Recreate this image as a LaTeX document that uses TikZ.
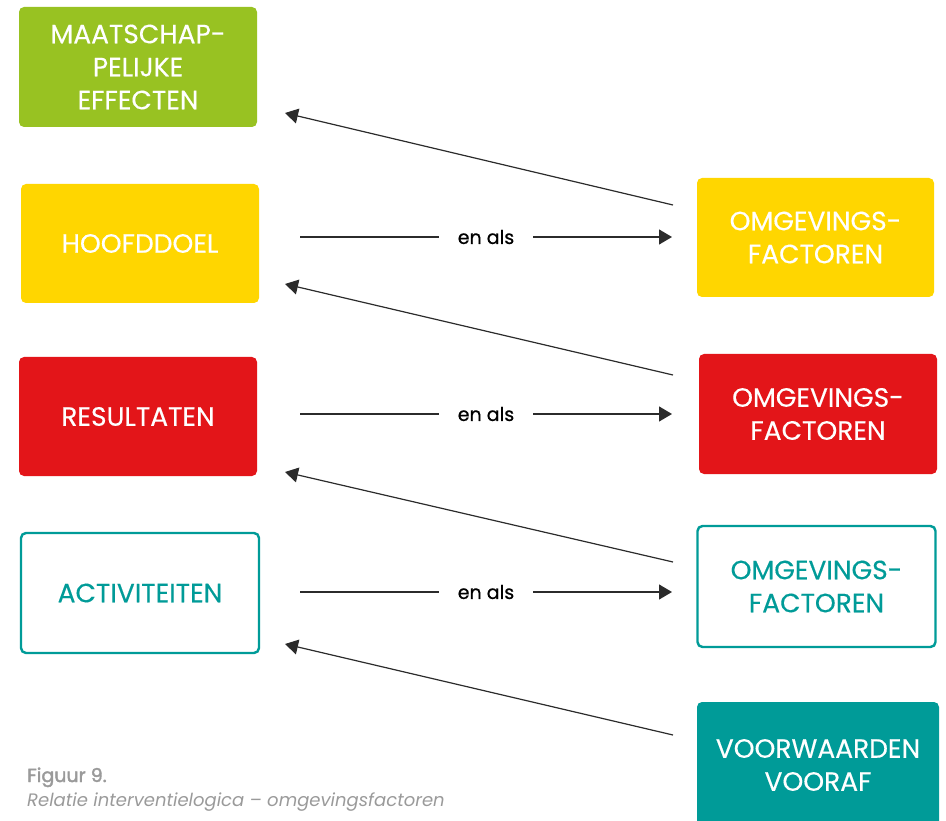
\documentclass[tikz,border=0pt]{standalone}
\usepackage{fontspec}
\setmainfont{Poppins}
\usetikzlibrary{arrows.meta}
\definecolor{cgreen}{HTML}{98C222}
\definecolor{cyellow}{HTML}{FFD600}
\definecolor{cred}{HTML}{E31519}
\definecolor{cteal}{HTML}{009B98}
\definecolor{cline}{HTML}{2B2B2B}
\definecolor{ccap}{HTML}{9A9A9A}
\begin{document}
\begin{tikzpicture}[x=1pt,y=-1pt,
  box/.style={rounded corners=5pt, minimum width=238pt, minimum height=120pt,
    inner sep=0pt, align=center, font=\fontsize{26.5}{33}\selectfont\addfontfeature{FakeBold=0.3}},
  solidbox/.style={box, fill=#1, text=white},
  openbox/.style={box, draw=cteal, line width=2.4pt, text=cteal, fill=white},
  link/.style={draw=cline, line width=1.2pt},
  tip/.style={-{Triangle[length=13pt,width=15pt]}},
  enals/.style={fill=white, inner xsep=19pt, text=black, font=\fontsize{19}{22}\selectfont\addfontfeature{FakeBold=0.8}},
  caption/.style={anchor=base west, inner sep=0pt, text=ccap},
]
\useasboundingbox (0,0) rectangle (946,821);
\begin{scope}
\clip (0,0) rectangle (946,821);

% left column: intervention logic
\node[solidbox=cgreen] (eff) at (138,67) {MAATSCHAP-\\PELIJKE\\EFFECTEN};
\node[solidbox=cyellow, minimum height=119pt] (doel) at (140,243.5) {HOOFDDOEL};
\node[solidbox=cred, minimum height=119pt] (res) at (138,416.5) {RESULTATEN};
\node[openbox, minimum width=238pt, minimum height=120pt] (act) at (140,593) {ACTIVITEITEN};

% right column: environment factors
\node[solidbox=cyellow, minimum width=237pt, minimum height=119pt] (om1) at (815.5,237.5) {OMGEVINGS-\\FACTOREN};
\node[solidbox=cred, minimum height=120pt] (om2) at (818,414) {OMGEVINGS-\\FACTOREN};
\node[openbox, minimum width=238pt, minimum height=121pt] (om3) at (816.5,586.5) {OMGEVINGS-\\FACTOREN};
\node[solidbox=cteal, minimum width=242pt, minimum height=126pt] (vw) at (818,765) {VOORWAARDEN\\VOORAF};
\end{scope}

% horizontal "en als" links
\coordinate (a1) at (300,237); \coordinate (b1) at (672,237);
\coordinate (a2) at (300,414); \coordinate (b2) at (672,414);
\coordinate (a3) at (300,592); \coordinate (b3) at (672,592);
\draw[link, tip] (a1) -- node[enals] (t1) {en als} (b1);
\draw[link, tip] (a2) -- node[enals] (t2) {en als} (b2);
\draw[link, tip] (a3) -- node[enals] (t3) {en als} (b3);

% diagonal links back to the level above
\coordinate (d1s) at (673,205); \coordinate (d1e) at (285,113);
\coordinate (d2s) at (673,375); \coordinate (d2e) at (285,284);
\coordinate (d3s) at (673,562); \coordinate (d3e) at (285,472);
\coordinate (d4s) at (673,735); \coordinate (d4e) at (285,644);
\draw[link, tip] (d1s) -- (d1e);
\draw[link, tip] (d2s) -- (d2e);
\draw[link, tip] (d3s) -- (d3e);
\draw[link, tip] (d4s) -- (d4e);

% caption
\node[caption, font=\fontsize{19}{22}\selectfont\addfontfeature{FakeBold=2}] (cap1) at (27,782) {Figuur 9.};
\node[caption, font=\fontsize{18}{22}\selectfont\itshape] (cap2) at (27,806) {Relatie interventielogica – omgevingsfactoren};
\end{tikzpicture}
\end{document}
